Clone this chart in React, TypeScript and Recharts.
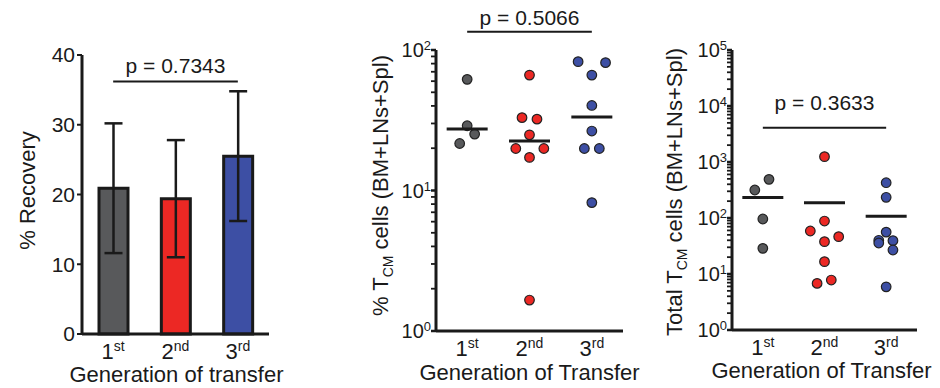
import React from 'react';
import { BarChart, Bar, XAxis, YAxis, ErrorBar, Cell, ReferenceLine, ScatterChart, Scatter } from 'recharts';

const FONT = '"Liberation Sans", Arial, Helvetica, sans-serif';
const INK = '#1a1a1a';

// Shared categories
const generationNumbers = ['1', '2', '3'];
const generationSuffixes = ['st', 'nd', 'rd'];
const generationLabels = ['1st', '2nd', '3rd'];
const groupColors = ['#58595b', '#ec2824', '#3d4fa4'];

// Panel A: % recovery (mean ± SD)
const recoveryMean = [20.9, 19.4, 25.5];
const recoverySD = [9.3, 8.4, 9.3];
const recoveryTicks = [0, 10, 20, 30, 40];
const recoveryP = 'p = 0.7343';
const recoveryPLevel = 36.2;

// Panel B: % TCM cells (log), median line
const pctGen1 = [61.8, 28.9, 21.6, 25.2];
const pctGen1Jitter = [0, 0, -0.12, 0.12];
const pctGen2 = [66.3, 33.0, 32.2, 24.9, 19.9, 19.9, 17.2, 1.66];
const pctGen2Jitter = [0, -0.12, 0.12, 0, -0.22, 0.23, 0, 0];
const pctGen3 = [82.6, 81.3, 66.3, 40.3, 26.5, 19.9, 19.9, 8.2];
const pctGen3Jitter = [-0.22, 0.22, 0, 0, 0, -0.12, 0.12, 0];
const pctMedian = [27.4, 22.5, 33.3];
const pctP = 'p = 0.5066';
const pctPLevel = 135;

// Panel C: total TCM cells (log), mean line
const totalGen1 = [316, 490, 96, 28.7];
const totalGen1Jitter = [-0.13, 0.1, 0, 0];
const totalGen2 = [1245, 88.3, 58.6, 46.4, 37.8, 16.6, 7.8, 6.8];
const totalGen2Jitter = [0, 0, -0.23, 0.23, 0, 0, 0.11, -0.12];
const totalGen3 = [427, 234, 56, 40, 35.8, 39.4, 26.8, 5.9];
const totalGen3Jitter = [0, 0, 0, -0.12, -0.12, 0.11, 0.11, 0];
const totalMean = [233, 188, 108];
const totalP = 'p = 0.3633';
const totalPLevel = 4100;

const buildLogTicks = (minExp: number, maxExp: number) => {
  const t: number[] = [];
  for (let e = minExp; e < maxExp; e++) {
    for (let m = 1; m < 10; m++) t.push(m * Math.pow(10, e));
  }
  t.push(Math.pow(10, maxExp));
  return t;
};
const pctTicks = buildLogTicks(0, 2);
const totalTicks = buildLogTicks(0, 5);

const recoveryData = generationLabels.map((g, i) => ({ gen: g, mean: recoveryMean[i], sd: recoverySD[i] }));

const toPoints = (vals: number[], jit: number[], g: number) => vals.map((v, i) => ({ x: g + jit[i], y: v }));
const pctGroups = [
  toPoints(pctGen1, pctGen1Jitter, 1),
  toPoints(pctGen2, pctGen2Jitter, 2),
  toPoints(pctGen3, pctGen3Jitter, 3),
];
const pctCenter = pctMedian.map((v, i) => ({ x: i + 1, y: v }));
const totalGroups = [
  toPoints(totalGen1, totalGen1Jitter, 1),
  toPoints(totalGen2, totalGen2Jitter, 2),
  toPoints(totalGen3, totalGen3Jitter, 3),
];
const totalCenter = totalMean.map((v, i) => ({ x: i + 1, y: v }));

const GenTick = (props: any) => {
  const { x, y, payload } = props;
  const v = payload.value;
  const idx = typeof v === 'number' ? v - 1 : generationLabels.indexOf(v);
  return (
    <text x={x} y={y + 25} textAnchor="middle" fontSize={22} fill={INK} fontFamily={FONT}>
      {generationNumbers[idx]}
      <tspan dy={-8} fontSize={14}>{generationSuffixes[idx]}</tspan>
    </text>
  );
};

const LogTick = (props: any) => {
  const { x, y, payload } = props;
  const v = payload.value;
  const lg = Math.log10(v);
  const exp = Math.round(lg);
  const major = Math.abs(lg - exp) < 1e-6;
  return (
    <g>
      <line x1={x - 5} x2={x} y1={y} y2={y} stroke={INK} strokeWidth={major ? 2.5 : 1.8} />
      {major && (
        <text x={x - 5} y={y + 7} textAnchor="end" fontSize={20} fill={INK} fontFamily={FONT}>
          10
          <tspan dy={-7} fontSize={13}>{exp}</tspan>
        </text>
      )}
    </g>
  );
};

const xTitle = (text: string, dx: number, base: number) => (props: any) => {
  const vb = props.viewBox;
  return (
    <text x={vb.x + vb.width / 2 + dx} y={vb.y + base} textAnchor="middle" fontSize={22} fill={INK} fontFamily={FONT}>
      {text}
    </text>
  );
};

const yTitle = (pre: string, sub: string, post: string, baseX: number, dy: number) => (props: any) => {
  const vb = props.viewBox;
  const cx = vb.x + baseX;
  const cy = vb.y + vb.height / 2 + dy;
  return (
    <text x={cx} y={cy} transform={`rotate(-90, ${cx}, ${cy})`} textAnchor="middle" fontSize={22} fill={INK} fontFamily={FONT}>
      {pre}
      {sub ? (
        <>
          <tspan dy={5} fontSize={14}>{sub}</tspan>
          <tspan dy={-5}>{post}</tspan>
        </>
      ) : null}
    </text>
  );
};

const pLabel = (text: string, gap: number) => (props: any) => {
  const vb = props.viewBox;
  return (
    <text x={vb.x + vb.width / 2} y={vb.y - gap} textAnchor="middle" fontSize={21} fill={INK} fontFamily={FONT}>
      {text}
    </text>
  );
};

const Dot = (color: string) => (p: any) => (
  <circle cx={p.cx} cy={p.cy} r={4.8} fill={color} stroke="#222" strokeWidth={1.2} />
);
const CenterLine = (p: any) => (
  <line x1={p.cx - 20.5} x2={p.cx + 20.5} y1={p.cy} y2={p.cy} stroke={INK} strokeWidth={3} />
);

const axisLineStyle = { stroke: INK, strokeWidth: 3 };

const PanelA = () => (
  <BarChart width={300} height={388} data={recoveryData} margin={{ top: 55, right: 31, bottom: 0, left: 0 }}>
    <XAxis dataKey="gen" type="category" axisLine={axisLineStyle} tickLine={false} tickSize={0} tickMargin={0}
      tick={<GenTick />} height={54} interval={0} label={xTitle('Generation of transfer', 1, 48)} />
    <YAxis type="number" domain={[0, 40]} ticks={recoveryTicks} width={82} axisLine={axisLineStyle}
      tickLine={{ stroke: INK, strokeWidth: 2 }} tickSize={5} tickMargin={2}
      tick={{ fontSize: 21, fill: INK, fontFamily: FONT }} interval={0}
      label={yTitle('% Recovery', '', '', 35, -4)} />
    <Bar dataKey="mean" barSize={29} stroke={INK} strokeWidth={3} isAnimationActive={false}>
      {recoveryData.map((d, i) => (
        <Cell key={d.gen} fill={groupColors[i]} />
      ))}
      <ErrorBar dataKey="sd" width={9} stroke={INK} strokeWidth={2.5} direction="y" isAnimationActive={false} />
    </Bar>
    <ReferenceLine segment={[{ x: '1st', y: recoveryPLevel }, { x: '3rd', y: recoveryPLevel }]}
      stroke={INK} strokeWidth={2} ifOverflow="visible" label={pLabel(recoveryP, 9)} />
  </BarChart>
);

const PanelB = () => (
  <ScatterChart width={340} height={388} margin={{ top: 50, right: 17, bottom: 0, left: 0 }}>
    <XAxis dataKey="x" type="number" domain={[0.5, 3.5]} ticks={[1, 2, 3]} axisLine={axisLineStyle} tickLine={false}
      tickSize={0} tickMargin={0} tick={<GenTick />} height={57} interval={0} allowDataOverflow
      label={xTitle('Generation of Transfer', 0, 49)} />
    <YAxis dataKey="y" type="number" scale="log" domain={[1, 100]} ticks={pctTicks} width={136} allowDataOverflow
      axisLine={axisLineStyle} tickLine={false} tickSize={0} tickMargin={0} tick={<LogTick />} interval={0}
      label={yTitle('% T', 'CM', ' cells (BM+LNs+Spl)', 88, -5)} />
    {pctGroups.map((pts, i) => (
      <Scatter key={i} data={pts} shape={Dot(groupColors[i])} isAnimationActive={false} />
    ))}
    <Scatter data={pctCenter} shape={CenterLine} isAnimationActive={false} />
    <ReferenceLine segment={[{ x: 1, y: pctPLevel }, { x: 3, y: pctPLevel }]}
      stroke={INK} strokeWidth={2} ifOverflow="visible" label={pLabel(pctP, 7)} />
  </ScatterChart>
);

const PanelC = () => (
  <ScatterChart width={300} height={388} margin={{ top: 50, right: 23, bottom: 0, left: 0 }}>
    <XAxis dataKey="x" type="number" domain={[0.5, 3.5]} ticks={[1, 2, 3]} axisLine={axisLineStyle} tickLine={false}
      tickSize={0} tickMargin={0} tick={<GenTick />} height={58} interval={0} allowDataOverflow
      label={xTitle('Generation of Transfer', -3, 48)} />
    <YAxis dataKey="y" type="number" scale="log" domain={[1, 100000]} ticks={totalTicks} width={92} allowDataOverflow
      axisLine={axisLineStyle} tickLine={false} tickSize={0} tickMargin={0} tick={<LogTick />} interval={0}
      label={yTitle('Total T', 'CM', ' cells (BM+LNs+Spl)', 42, 2)} />
    {totalGroups.map((pts, i) => (
      <Scatter key={i} data={pts} shape={Dot(groupColors[i])} isAnimationActive={false} />
    ))}
    <Scatter data={totalCenter} shape={CenterLine} isAnimationActive={false} />
    <ReferenceLine segment={[{ x: 1, y: totalPLevel }, { x: 3, y: totalPLevel }]}
      stroke={INK} strokeWidth={2} ifOverflow="visible" label={pLabel(totalP, 18)} />
  </ScatterChart>
);

export default function App() {
  return (
    <div style={{ position: 'absolute', left: 0, top: 0, width: 940, height: 388, background: '#fff', fontFamily: FONT, overflow: 'hidden' }}>
      <div style={{ position: 'absolute', left: 0, top: 0 }}><PanelA /></div>
      <div style={{ position: 'absolute', left: 300, top: 0 }}><PanelB /></div>
      <div style={{ position: 'absolute', left: 640, top: 0 }}><PanelC /></div>
    </div>
  );
}
